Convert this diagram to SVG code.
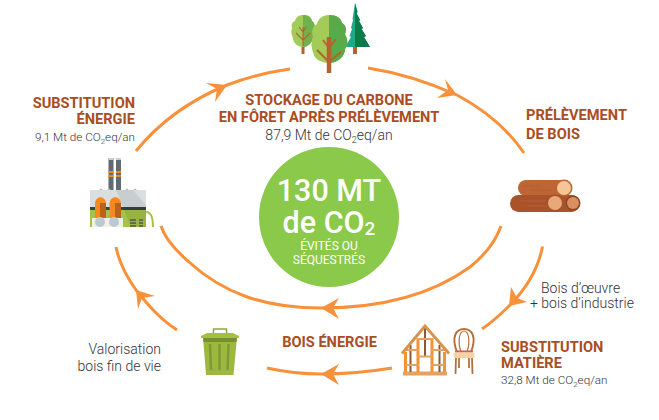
<svg xmlns="http://www.w3.org/2000/svg" width="659" height="420" viewBox="0 0 659 420">
<style>
text{font-family:Roboto,"Liberation Sans",sans-serif}
.h{font-weight:700;font-size:14.6px;fill:#a94e22}
.s{font-weight:300;font-size:11.7px;fill:#333}
.b{font-weight:300;font-size:14px;fill:#333}
.a{fill:none;stroke:#f9903a;stroke-width:3;stroke-linecap:butt}
.t{fill:#f9903a}
.m{text-anchor:middle}
.e{text-anchor:end}
.w{fill:#fff;text-anchor:middle}
</style>
<rect width="659" height="420" fill="#fff"/>
<g id="connectors">
<path class="a" d="M136 151C158 124 188 101 227 85C246 78 268 72 290 69"/>
<polygon class="t" points="227,85 206,83 217,89 215,102"/>
<path class="a" d="M368 68C400 73 430 83 457 95C485 110 507 128 524 153"/>
<polygon class="t" points="457,95 445,79 448,90 437,98"/>
<path class="a" d="M542.500 246.500C538 270 526 289 509 306C500 315 491 323 482 329"/>
<polygon class="t" points="509,306 511,287 517,298 527,302"/>
<path class="a" d="M501 226C494 246 480 259 470 267C430 296 378 308 321 308C262 308 222 292 189 262C175 250 165 238 161 226"/>
<polygon class="t" points="321,308 339,298 333,308 339,319"/>
<path class="a" d="M392 368C368 372 345 374 321 374C302 374 285 372 267 368"/>
<polygon class="t" points="321,374 339,364 333,374 339,385"/>
<path class="a" d="M177 330C160 319 148 305 136 290C126 276 119 262 116 247"/>
<polygon class="t" points="136,290 155,296 142,298 138,309"/>
</g>
<g id="node-stockage">
<g id="trees">
<rect x="301.500" y="40" width="3" height="14" fill="#b5622f"/>
<path d="M303 15C308 15 311 17 312 21C315 23 315 26 314 28C315 31 315 35 313 37C313 42 308 47 303 47C298 47 293 43 293 38C291 35 291 31 292 28C291 25 292 22 295 21C296 17 299 15 303 15Z" fill="#a3cb57"/>
<path d="M303 15C308 15 311 17 312 21C315 23 315 26 314 28C315 31 315 35 313 37C313 42 308 47 303 47Z" fill="#6fb24b"/>
<path d="M303 46V27M303 40L296 33M303 40L310 33M303 32L299 27M303 32L306 27" stroke="#b5622f" stroke-width="1.100" fill="none"/>
<polygon points="355,3 357.500,12 356.500,13 360,20 359,21 363,28 361.500,29 366,36 364,37 370,47 345,47 351,37 349.500,36 352,29 351,28 353,20 352.500,19" fill="#1cab88"/>
<polygon points="355,3 357.500,12 356.500,13 360,20 359,21 363,28 361.500,29 366,36 364,37 370,47 355,47" fill="#0d7a4a"/>
<rect x="353" y="47" width="4" height="7" fill="#b5622f"/>
<path d="M329 15C337 15 341 18 342 23C346 25 347 30 345 34C348 39 348 45 345 49C345 57 337 63 329 63C321 63 314 59 313 52C311 47 311 41 313 37C311 31 313 26 317 24C318 19 322 15 329 15Z" fill="#a3cb57"/>
<path d="M329 15C337 15 341 18 342 23C346 25 347 30 345 34C348 39 348 45 345 49C345 57 337 63 329 63Z" fill="#58ab48"/>
<path d="M329 73V37" stroke="#b5622f" stroke-width="4.500"/>
<path d="M329 62L317 50M329 62L341 52M329 48L323 40M329 48L336 39" stroke="#b5622f" stroke-width="1.800" fill="none"/>
</g>
<text class="h m" x="329" y="105">STOCKAGE DU CARBONE</text>
<text class="h m" x="329" y="122">EN FÔRET APRÈS PRÉLÈVEMENT</text>
<text class="b m" x="329" y="140">87,9 Mt de CO<tspan font-size="9" dy="3">2</tspan><tspan dy="-3">eq/an</tspan></text>
</g>
<g id="node-centre">
<circle cx="329" cy="217" r="70" fill="#8bc94a"/>
<text class="w" x="329" y="200.500" font-size="30.500" font-weight="500">130 MT</text>
<text class="w" x="329" y="233" font-size="30.500" font-weight="500">de CO<tspan font-size="19" dy="2">2</tspan></text>
<text class="w" x="329" y="250" font-size="12" font-weight="400">ÉVITÉS OU</text>
<text class="w" x="329" y="264" font-size="12" font-weight="400">SÉQUESTRÉS</text>
</g>
<g id="node-prelevement">
<text class="h" x="526" y="120">PRÉLÈVEMENT</text>
<text class="h" x="526" y="139">DE BOIS</text>
<g id="logs">
<rect x="518" y="180" width="54" height="16" rx="8" fill="#bd6535"/>
<rect x="510" y="195" width="70" height="17" rx="8.500" fill="#a8532a"/>
<path d="M522 186H540M530 190H552M520 201H545M528 206H548" stroke="#b85f30" stroke-width="1" fill="none"/>
<circle cx="564" cy="188" r="8.500" fill="#bd6535"/><circle cx="564" cy="188" r="7" fill="#f6c596"/>
<circle cx="555" cy="203" r="8.500" fill="#a8532a"/><circle cx="555" cy="203" r="7" fill="#e8a878"/>
<circle cx="573" cy="203" r="7.500" fill="#8f4524"/><circle cx="573" cy="203" r="6" fill="#d98f62"/>
</g>
</g>
<g id="node-matiere">
<text class="b" x="541" y="293">Bois d’œuvre</text>
<text class="b" x="530" y="308">+ bois d’industrie</text>
<text class="h" x="501" y="352">SUBSTITUTION</text>
<text class="h" x="501" y="368">MATIÈRE</text>
<text class="s" x="501" y="384">32,8 Mt de CO<tspan font-size="8" dy="3">2</tspan><tspan dy="-3">eq/an</tspan></text>
<g id="house">
<rect x="403" y="371.500" width="44" height="4" fill="#e4a262"/>
<path d="M405.500 352V372M418 338V372M432 338V372M444.500 352V372" stroke="#f5922f" stroke-width="3" fill="none"/>
<path d="M410.500 345V372M425 328V356M439.500 345V372" stroke="#8a5a36" stroke-width="2" fill="none"/>
<path d="M405 350H419M405 365H419M431 350H445M431 365H445M417 356.500H433M417 339H433" stroke="#e4a262" stroke-width="2" fill="none"/>
<path d="M402 353.500L425 326L449 353.500" stroke="#d8924e" stroke-width="2.800" fill="none"/>
</g>
<g id="chair">
<path d="M457 352C451 337 456 329 464 329C472 329 477 337 471 352" stroke="#b5713c" stroke-width="2" fill="none"/>
<path d="M461 352C457 340 460 331 464 331C468 331 471 340 467 352" stroke="#b5713c" stroke-width="1.200" fill="none"/>
<rect x="455" y="350.500" width="18" height="2" fill="#e0574f"/>
<rect x="453.500" y="352.500" width="21" height="5.500" rx="1.500" fill="#f4d3a4"/>
<path d="M456 358L455.500 374M472 358L472.500 374M459 358V368M469 358V368" stroke="#b5713c" stroke-width="1.800" fill="none"/>
</g>
</g>
<g id="node-bois-energie">
<text class="h m" x="329.500" y="347">BOIS ÉNERGIE</text>
</g>
<g id="node-valorisation">
<text class="b e" x="161" y="354">Valorisation</text>
<text class="b e" x="161" y="371">bois fin de vie</text>
<g id="bin">
<path d="M213.500 333V329H226.500V333" fill="none" stroke="#8fa83a" stroke-width="1.500"/>
<polygon points="203,337 237,337 233.500,375 206,375" fill="#9cb83f"/>
<polygon points="203,337 237,337 236.500,342 203.500,342" fill="#74902f"/>
<polygon points="207,333 233,333 239,336 239,338 201,338 201,336" fill="#a5c040"/>
<path d="M210 344L211 370M219.500 344V370M228.500 344L227.500 370" stroke="#7f9a33" stroke-width="2.500" fill="none"/>
</g>
</g>
<g id="node-energie">
<text class="h e" x="135" y="107.500">SUBSTITUTION</text>
<text class="h e" x="135" y="124">ÉNERGIE</text>
<text class="s e" x="135" y="141">9,1 Mt de CO<tspan font-size="8" dy="3">2</tspan><tspan dy="-3">eq/an</tspan></text>
<g id="factory">
<rect x="108.500" y="158" width="5" height="32" fill="#5f6b70"/>
<rect x="116" y="158" width="5" height="32" fill="#5f6b70"/>
<rect x="108.500" y="158" width="5" height="2" fill="#c9d0d2"/>
<rect x="116" y="158" width="5" height="2" fill="#c9d0d2"/>
<path d="M108.500 172H113.500M108.500 176H113.500M116 172H121M116 176H121" stroke="#f5891f" stroke-width="2"/>
<circle cx="101" cy="190" r="1.500" fill="#b8bfc1"/><circle cx="109" cy="190" r="1.500" fill="#b8bfc1"/><circle cx="127" cy="190" r="1.500" fill="#b8bfc1"/><circle cx="135" cy="190" r="1.500" fill="#b8bfc1"/>
<rect x="90" y="190" width="56" height="17" fill="#d9dfdf"/>
<rect x="90" y="207" width="56" height="20" fill="#a5c24a"/>
<rect x="90" y="207" width="56" height="3" fill="#3a4145"/>
<polygon points="133,190 146,205 146,227 131,227 116,190" fill="#000" fill-opacity=".08"/>
<path d="M95 219V204C95 195 106 195 106 204V219Z" fill="#f5891f"/>
<path d="M109.500 219V204C109.500 195 121 195 121 204V219Z" fill="#f5891f"/>
<rect x="100" y="203" width="6" height="16" fill="#b8621c"/>
<rect x="115" y="203" width="6" height="16" fill="#b8621c"/>
<rect x="92" y="218" width="31" height="9" fill="#eef1ea"/>
<circle cx="100" cy="222" r="5" fill="#b9cbd1"/><circle cx="114" cy="222" r="5" fill="#b9cbd1"/>
<path d="M130 220H136M130 223H136M130 226H136M139 220H143M139 223H143M139 226H143" stroke="#4e5a52" stroke-width="1.500"/>
<path d="M146 212C151 212 153 218 153 227" fill="none" stroke="#a5c24a" stroke-width="2"/>
</g>
</g>
</svg>
